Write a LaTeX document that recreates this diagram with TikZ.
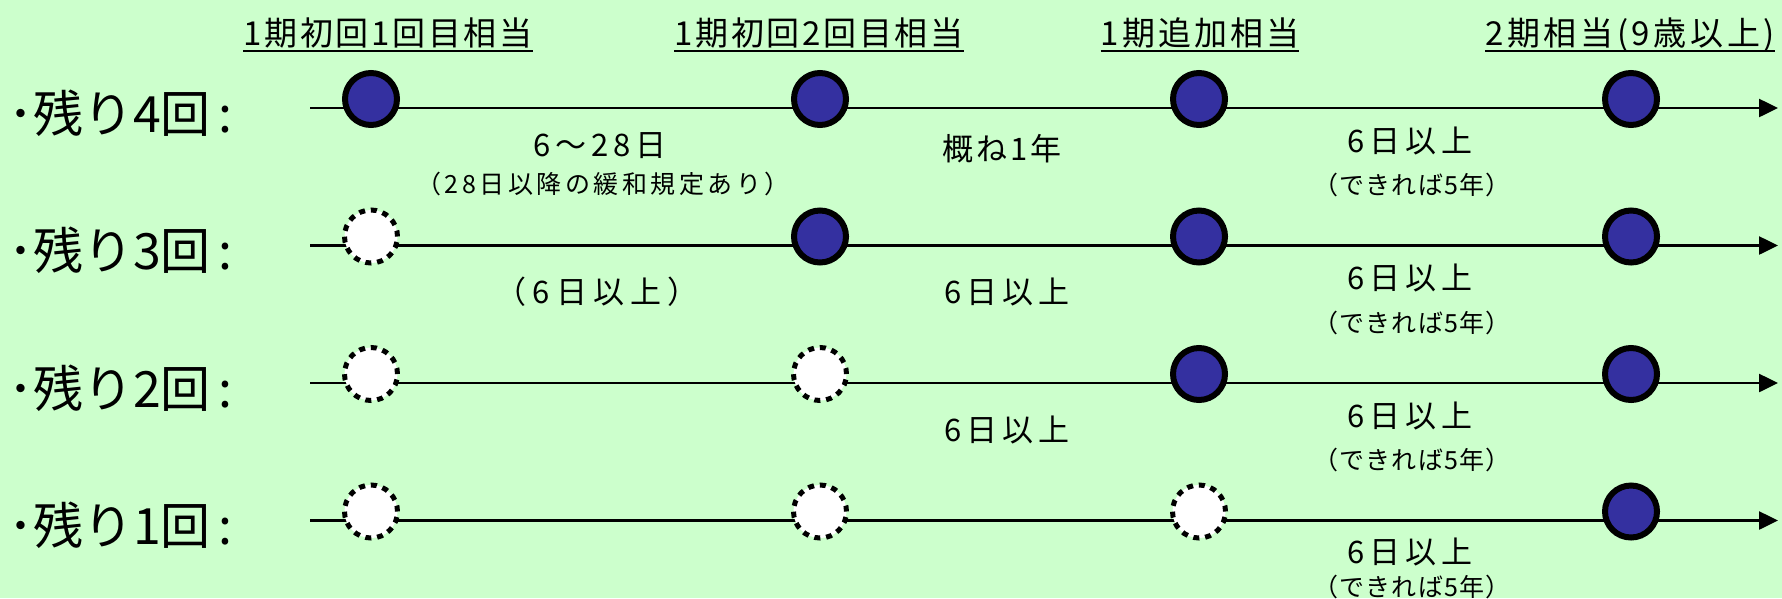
\documentclass[tikz,border=0pt]{standalone}
\usepackage{fontspec}
\newfontfamily\jp{Noto Sans CJK JP}
\usetikzlibrary{arrows.meta}
\definecolor{bg}{RGB}{204,255,204}
\definecolor{dosefill}{RGB}{52,48,160}
\begin{document}
\begin{tikzpicture}[x=1pt,y=-1pt,
  shot/.style={circle,draw=black,line width=6pt,fill=dosefill,minimum size=52pt,inner sep=0pt},
  skipped/.style={circle,draw=black,line width=5pt,fill=white,dash pattern=on 6pt off 5.9pt,minimum size=53pt,inner sep=0pt},
  track/.style={line width=2.5pt,-{Triangle[length=19pt,width=18pt]}},
  hdr/.style={anchor=base,inner sep=0pt,font=\jp\fontsize{33}{36}\selectfont\addfontfeatures{LetterSpace=#1}},
  rowlbl/.style={anchor=base west,inner sep=0pt,font=\jp\fontsize{50}{56}\selectfont},
  big/.style={anchor=base,inner sep=0pt,font=\jp\fontsize{31}{34}\selectfont\addfontfeatures{LetterSpace=#1}},
  small/.style={anchor=base,inner sep=0pt,font=\jp\fontsize{25}{28}\selectfont\addfontfeatures{LetterSpace=#1}},
  uline/.style={line width=2pt}
]
\fill[bg] (0,0) rectangle (1782,598);
\useasboundingbox (0,0) rectangle (1782,598);

% headers
\node[hdr=8] (h1) at (388,45) {1期初回1回目相当};
\node[hdr=8] (h2) at (819,45) {1期初回2回目相当};
\node[hdr=9] (h3) at (1200,45) {1期追加相当};
\node[hdr=11] (h4) at (1630,45) {2期相当(9歳以上)};
\foreach \h in {h1,h2,h3,h4}
  \draw[uline] ([yshift=-6pt]\h.base west) -- ([yshift=-6pt]\h.base east);

% tracks
\coordinate (s1) at (310,108);   \coordinate (e1) at (1778,108);
\coordinate (s2) at (310,245.5); \coordinate (e2) at (1778,245.5);
\coordinate (s3) at (310,383);   \coordinate (e3) at (1778,383);
\coordinate (s4) at (310,520.5); \coordinate (e4) at (1778,520.5);
\foreach \r in {1,2,3,4} \draw[track] (s\r) -- (e\r);

% row labels
\node[rowlbl] (r1) at (8,132)   {･残り4回\kern8pt:};
\node[rowlbl] (r2) at (8,269.5) {･残り3回\kern8pt:};
\node[rowlbl] (r3) at (8,407)   {･残り2回\kern8pt:};
\node[rowlbl] (r4) at (8,544.5) {･残り1回\kern8pt:};

% doses row 1
\node[shot] (c11) at (371,99) {};
\node[shot] (c12) at (820,99) {};
\node[shot] (c13) at (1199,99) {};
\node[shot] (c14) at (1631,99) {};
% row 2
\node[skipped] (c21) at (371,236.5) {};
\node[shot] (c22) at (820,236.5) {};
\node[shot] (c23) at (1199,236.5) {};
\node[shot] (c24) at (1631,236.5) {};
% row 3
\node[skipped] (c31) at (371,374) {};
\node[skipped] (c32) at (820,374) {};
\node[shot] (c33) at (1199,374) {};
\node[shot] (c34) at (1631,374) {};
% row 4
\node[skipped] (c41) at (371,511.5) {};
\node[skipped] (c42) at (820,511.5) {};
\node[skipped] (c43) at (1199,511.5) {};
\node[shot] (c44) at (1631,511.5) {};

% interval labels row 1
\node[big=15] (a1) at (600,156) {6～28日};
\node[small=14] (b1) at (603,193) {（28日以降の緩和規定あり）};
\node[big=10] (m1) at (1002,160) {概ね1年};
\node[big=15] (d1) at (1410,152) {6日以上};
\node[small=5] (f1) at (1412,194) {（できれば5年）};
% row 2
\node[big=20] (a2) at (597,303) {（6日以上）};
\node[big=15] (m2) at (1007,303) {6日以上};
\node[big=15] (d2) at (1410,289) {6日以上};
\node[small=5] (f2) at (1412,332) {（できれば5年）};
% row 3
\node[big=15] (m3) at (1007,441) {6日以上};
\node[big=15] (d3) at (1410,427) {6日以上};
\node[small=5] (f3) at (1412,469) {（できれば5年）};
% row 4
\node[big=15] (d4) at (1410,563) {6日以上};
\node[small=5] (f4) at (1412,596) {（できれば5年）};
\end{tikzpicture}
\end{document}
